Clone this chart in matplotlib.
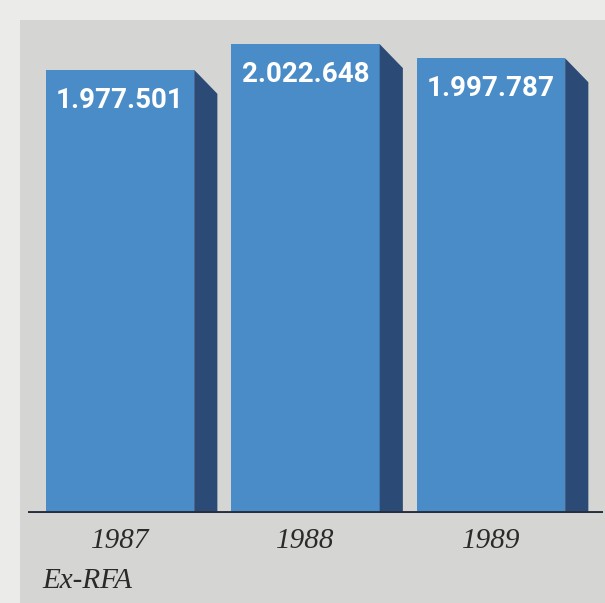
import matplotlib
matplotlib.use("Agg")
import matplotlib.pyplot as plt
from matplotlib.patches import Rectangle, Polygon

years = ["1987", "1988", "1989"]
values = [1977501, 2022648, 1997787]
labels = ["1.977.501", "2.022.648", "1.997.787"]
region = "Ex-RFA"

front_color = "#4a8cc8"
side_color = "#2b4a76"
panel_color = "#d5d5d3"
outer_color = "#ebebe9"

W, H = 605, 603
fig = plt.figure(figsize=(W / 100, H / 100), dpi=100)
fig.patch.set_facecolor(outer_color)

# grey panel behind the chart
fig.add_artist(Rectangle((20 / W, 0), 1 - 20 / W, 1 - 20 / H, transform=fig.transFigure,
                         facecolor=panel_color, edgecolor="none", zorder=0))

# axes: baseline at y=513 px, top at 20 px
ax = fig.add_axes([28 / W, (H - 513) / H, (603 - 28) / W, (513 - 20) / H])
ax.set_facecolor("none")
y0 = 1200000
ymax = 2065000
ax.set_ylim(y0, ymax)
ax.set_xlim(-0.496, 2.604)

width = 0.8
depth = 0.125
drop = 42000

xs = range(len(years))
ax.bar(xs, [v - y0 for v in values], bottom=y0, width=width, color=front_color,
       edgecolor="none", zorder=3)
for x, v in zip(xs, values):
    xr = x + width / 2
    ax.add_patch(Polygon([(xr, y0), (xr, v), (xr + depth, v - drop), (xr + depth, y0)],
                         closed=True, facecolor=side_color, edgecolor="none", zorder=3))

for x, v, lab in zip(xs, values, labels):
    ax.annotate(lab, (x, v), xytext=(0, -22), textcoords="offset points",
                ha="center", va="center", color="white", fontsize=20,
                fontfamily="Roboto", fontweight="bold", zorder=5)

ax.axhline(y0, color="#262f3c", lw=2.8, zorder=6, xmin=0, xmax=1)

for s in ax.spines.values():
    s.set_visible(False)
ax.set_yticks([])
ax.set_xticks(list(xs))
ax.set_xticklabels(years, fontfamily="Liberation Serif", fontstyle="italic",
                   fontsize=21, color="#2a2a2a")
ax.tick_params(axis="x", length=0, pad=11)

fig.text(42 / W, 1 - 581 / H, region, fontfamily="Liberation Serif", fontstyle="italic",
         fontsize=21, color="#2a2a2a", ha="left", va="center")

fig.savefig("out.png", dpi=100, facecolor=fig.get_facecolor())
